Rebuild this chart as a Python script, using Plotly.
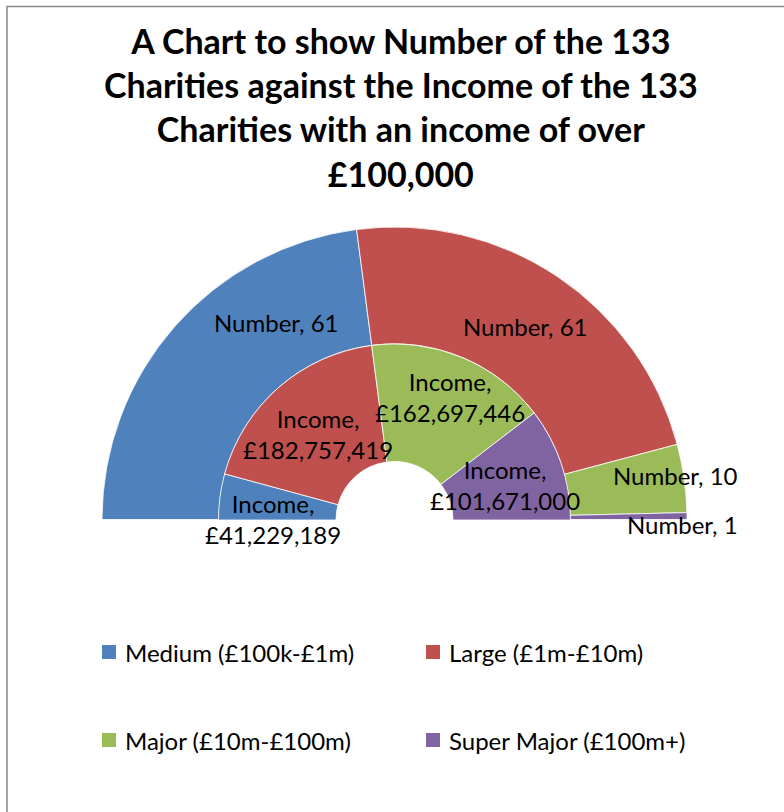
import plotly.graph_objects as go

# Charity bands, counts and total income per band
categories = ["Medium (£100k-£1m)", "Large (£1m-£10m)",
              "Major (£10m-£100m)", "Super Major (£100m+)"]
number_values = [61, 61, 10, 1]
income_values = [41229189, 182757419, 162697446, 101671000]
series_names = ["Number", "Income"]
colors = ["#4F81BD", "#C0504D", "#9BBB59", "#8064A2"]

W, H = 784, 812
FONT = "Lato"


def fx(x):
    return x / W


def fy(y):
    return 1 - y / H


# Half-doughnut: a transparent filler slice equal to the total takes the lower half
def half_ring(values, name, domain, hole):
    vals = list(values) + [sum(values)]
    return go.Pie(
        labels=categories + ["filler"],
        values=vals,
        name=name,
        sort=False,
        direction="clockwise",
        rotation=-90,
        hole=hole,
        domain=domain,
        textinfo="none",
        hoverinfo="label+value+name",
        showlegend=False,
        marker=dict(
            colors=colors + ["rgba(0,0,0,0)"],
            line=dict(color=["white"] * len(values) + ["rgba(0,0,0,0)"],
                      width=[0.8] * len(values) + [0]),
        ),
    )


cx, cy = 394.5, 520
r_outer, r_mid, r_hole = 293, 176, 58.5

fig = go.Figure()
fig.add_trace(half_ring(
    number_values, series_names[0],
    dict(x=[fx(cx - r_outer), fx(cx + r_outer)], y=[0, fy(cy - r_outer)]),
    r_mid / r_outer))
fig.add_trace(half_ring(
    income_values, series_names[1],
    dict(x=[fx(cx - r_mid), fx(cx + r_mid)], y=[fy(cy + r_mid), fy(cy - r_mid)]),
    r_hole / r_mid))

annotations = []
label_font = dict(family=FONT, size=24, color="black")

# Data labels: "series, value"
number_pos = [(276, 322), (525, 327), (675, 475), (682, 524)]
income_pos = [(273, 519), (318, 434), (450, 397), (505, 485)]
for v, (x, y) in zip(number_values, number_pos):
    annotations.append(dict(x=fx(x), y=fy(y), xref="paper", yref="paper",
                            text=f"{series_names[0]}, {v}", showarrow=False,
                            font=label_font, xanchor="center", yanchor="middle"))
for v, (x, y) in zip(income_values, income_pos):
    annotations.append(dict(x=fx(x), y=fy(y), xref="paper", yref="paper",
                            text=f"{series_names[1]},<br>£{v:,}", showarrow=False,
                            font=label_font, xanchor="center", yanchor="middle"))

# Title
annotations.append(dict(
    x=fx(401), y=fy(18), xref="paper", yref="paper", xanchor="center", yanchor="top",
    text="<b>A Chart to show Number of the 133<br>Charities against the Income of the 133"
         "<br>Charities with an income of over<br>£100,000</b>",
    showarrow=False, font=dict(family=FONT, size=34, color="black")))

# Legend: two columns, two rows
shapes = []
legend_cols = [102, 426]
legend_rows = [652, 740]
for i, (name, col) in enumerate(zip(categories, colors)):
    lx = legend_cols[i % 2]
    ly = legend_rows[i // 2]
    shapes.append(dict(type="rect", xref="paper", yref="paper",
                       x0=fx(lx), x1=fx(lx + 14), y0=fy(ly + 7), y1=fy(ly - 7),
                       fillcolor=col, line=dict(width=0)))
    annotations.append(dict(x=fx(lx + 21), y=fy(ly), xref="paper", yref="paper",
                            xanchor="left", yanchor="middle", text=name, showarrow=False,
                            font=dict(family=FONT, size=24, color="black")))

# Chart area border
shapes.append(dict(type="rect", xref="paper", yref="paper",
                   x0=fx(7), x1=1.05, y0=-0.05, y1=fy(6.5),
                   line=dict(color="#868686", width=1.5), fillcolor="rgba(0,0,0,0)"))

fig.update_layout(
    width=W, height=H,
    margin=dict(l=0, r=0, t=0, b=0),
    paper_bgcolor="white", plot_bgcolor="white",
    annotations=annotations, shapes=shapes,
    showlegend=False,
    font=dict(family=FONT),
)

fig.write_html("out.html")
